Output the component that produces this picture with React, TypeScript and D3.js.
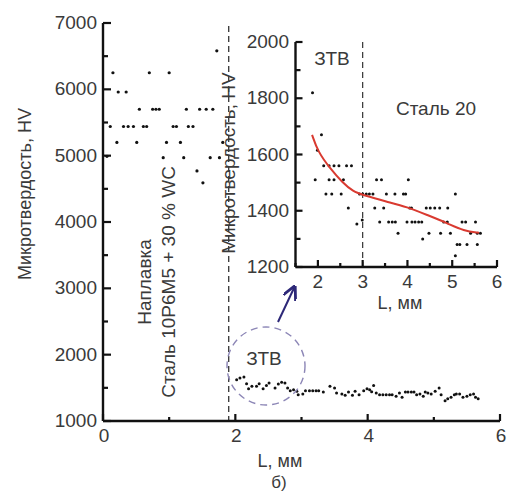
import React from "react";
import * as d3 from "d3";

// ---- Main chart data ----
const claddingX = [0.15, 0.70, 1.00, 0.23, 0.35, 0.55, 0.75, 0.80, 0.85, 1.26, 1.46, 1.56, 1.66,
  0.11, 0.31, 0.38, 0.46, 0.61, 0.66, 1.06, 1.11, 1.29, 1.36,
  0.21, 0.51, 0.96, 1.17, 1.81,
  0.06, 0.91, 1.22, 1.62, 1.76, 1.42, 1.51, 1.72];
const claddingY = [6250, 6250, 6250, 5960, 5960, 5700, 5700, 5700, 5700, 5700, 5700, 5700, 5700,
  5440, 5440, 5440, 5440, 5440, 5440, 5440, 5440, 5440, 5440,
  5200, 5200, 5200, 5200, 5200,
  4990, 4970, 4970, 4970, 4970, 4770, 4590, 6580];

const hazX = [2.02, 2.07, 2.13, 2.20, 2.25, 2.32, 2.36, 2.42, 2.47, 2.51, 2.60, 2.65, 2.70, 2.75, 2.79,
  2.83, 2.88, 2.93, 2.95, 3.02, 3.06, 3.12, 3.17, 3.22, 3.26, 3.33, 3.43, 3.50, 3.53, 3.61, 3.66,
  3.71, 3.77, 3.81, 3.87, 3.94, 3.99, 4.03, 4.06, 4.09, 4.13, 4.18, 4.23, 4.28, 4.33, 4.37, 4.43,
  4.48, 4.52, 4.57, 4.61, 4.66, 4.70, 4.74, 4.79, 4.84, 4.87, 4.91, 4.96, 5.02, 5.08, 5.11, 5.17,
  5.21, 5.26, 5.31, 5.34, 5.39, 5.44, 5.50, 5.55, 5.60, 5.63, 5.67, 2.17];
const hazY = [1620, 1650, 1665, 1487, 1522, 1522, 1562, 1487, 1537, 1572, 1497, 1557, 1583, 1572, 1497,
  1457, 1472, 1447, 1397, 1407, 1457, 1457, 1457, 1457, 1457, 1437, 1522, 1497, 1422, 1407, 1387,
  1437, 1387, 1447, 1397, 1457, 1487, 1472, 1440, 1537, 1422, 1397, 1397, 1397, 1397, 1397, 1372,
  1422, 1357, 1437, 1437, 1437, 1437, 1397, 1407, 1372, 1437, 1422, 1407, 1447, 1497, 1397, 1307,
  1337, 1357, 1397, 1407, 1407, 1357, 1372, 1397, 1407, 1357, 1337, 1562];

// ---- Inset data ----
const insetX = [1.88, 2.08, 1.99, 1.94,
  2.13, 2.25, 2.36, 2.47, 2.64, 2.75,
  2.25, 2.36, 2.57,
  2.18, 2.31, 2.52, 2.93, 3.00, 3.08, 3.15, 3.23,
  2.68, 2.87, 2.99,
  3.31, 3.42, 4.02,
  3.53, 3.72, 3.91, 3.96, 5.07,
  3.27, 3.47, 4.05, 4.09, 4.42, 4.51, 4.61, 4.72, 4.90,
  3.38, 3.58, 3.66, 3.73, 3.99, 4.10, 4.17, 4.25, 4.32, 4.81, 4.89, 5.22, 5.30, 5.52,
  3.79, 4.48, 4.74, 4.96, 5.41, 5.56, 5.63,
  4.34, 5.11, 5.17, 5.33, 5.56, 5.07];
const insetY = [1820, 1670, 1615, 1510,
  1560, 1560, 1560, 1560, 1560, 1560,
  1510, 1510, 1510,
  1460, 1460, 1460, 1460, 1460, 1460, 1460, 1460,
  1410, 1353, 1367,
  1510, 1510, 1510,
  1460, 1460, 1460, 1460, 1460,
  1410, 1410, 1410, 1410, 1410, 1410, 1410, 1410, 1410,
  1360, 1360, 1360, 1360, 1360, 1360, 1360, 1360, 1360, 1360, 1360, 1360, 1360, 1360,
  1320, 1320, 1320, 1320, 1320, 1320, 1320,
  1300, 1280, 1280, 1280, 1280, 1240];

const fitX = [1.87, 2.0, 2.27, 2.55, 2.79, 3.0, 3.54, 3.99, 4.44, 4.89, 5.26, 5.6];
const fitY = [1670, 1610, 1551, 1500, 1468, 1456, 1432, 1414, 1385, 1356, 1328, 1322];

// ---- Ticks ----
const mainXTicks = [0, 2, 4, 6];
const mainXMinor = [1, 3, 5];
const mainYTicks = [1000, 2000, 3000, 4000, 5000, 6000, 7000];
const mainYMinor = [1500, 2500, 3500, 4500, 5500, 6500];
const insetXTicks = [2, 3, 4, 5, 6];
const insetXMinor = [1.5, 2.5, 3.5, 4.5, 5.5];
const insetYTicks = [1200, 1400, 1600, 1800, 2000];
const insetYMinor = [1300, 1500, 1700, 1900];

const FONT = "Liberation Sans, Arial, sans-serif";
const TXT = "#3a3a3a";

export default function App() {
  const mx = d3.scaleLinear().domain([0, 6]).range([103, 500]);
  const my = d3.scaleLinear().domain([1000, 7000]).range([421, 23]);
  const ix = d3.scaleLinear().domain([1.5, 6]).range([295.5, 497]);
  const iy = d3.scaleLinear().domain([1200, 2000]).range([267, 42]);

  const fitLine = d3
    .line<number>()
    .x((_, i) => ix(fitX[i]))
    .y((d) => iy(d))
    .curve(d3.curveBasis)(fitY) as string;

  const dashX = 1.9;

  return (
    <svg
      width={508}
      height={492}
      style={{ position: "absolute", left: 0, top: 0, background: "#fff" }}
      fontFamily={FONT}
    >
      <defs>
        <marker id="arr" viewBox="0 0 10 10" refX="8" refY="5" markerWidth="7" markerHeight="7" orient="auto-start-reverse">
          <path d="M0,0 L10,5 L0,10" fill="none" stroke="#2d2878" strokeWidth={2} />
        </marker>
      </defs>

      {/* main dashed separator */}
      <line x1={mx(dashX)} x2={mx(dashX)} y1={my(7000) + 3} y2={my(1000)} stroke="#333" strokeWidth={1.3} strokeDasharray="6,4" />

      {/* main axes */}
      <line x1={mx(0)} x2={mx(0)} y1={my(7000)} y2={my(1000)} stroke="#111" strokeWidth={2.4} />
      <line x1={mx(0)} x2={mx(6)} y1={my(1000)} y2={my(1000)} stroke="#111" strokeWidth={2.4} />
      {mainYTicks.map((t) => (
        <g key={"my" + t}>
          <line x1={mx(0)} x2={mx(0) + 8} y1={my(t)} y2={my(t)} stroke="#111" strokeWidth={2.2} />
          <text x={97} y={my(t) + 6} textAnchor="end" fontSize={19} fill={TXT}>{t}</text>
        </g>
      ))}
      {mainYMinor.map((t) => (
        <line key={"mym" + t} x1={mx(0)} x2={mx(0) + 5} y1={my(t)} y2={my(t)} stroke="#111" strokeWidth={2.2} />
      ))}
      {mainXTicks.map((t) => (
        <g key={"mx" + t}>
          <line x1={mx(t)} x2={mx(t)} y1={my(1000)} y2={my(1000) - 7} stroke="#111" strokeWidth={2.2} />
          <text x={mx(t) + 1} y={442} textAnchor="middle" fontSize={19} fill={TXT}>{t}</text>
        </g>
      ))}
      {mainXMinor.map((t) => (
        <line key={"mxm" + t} x1={mx(t)} x2={mx(t)} y1={my(1000)} y2={my(1000) - 4} stroke="#111" strokeWidth={2.2} />
      ))}

      {/* main points */}
      {claddingX.map((x, i) => (
        <circle key={"c" + i} cx={mx(x)} cy={my(claddingY[i])} r={1.6} fill="#111" />
      ))}
      {hazX.map((x, i) => (
        <circle key={"h" + i} cx={mx(x)} cy={my(hazY[i])} r={1.5} fill="#111" />
      ))}

      {/* main labels */}
      <text transform={`translate(31,194) rotate(-90)`} textAnchor="middle" fontSize={18} fill={TXT}>Микротвердость, HV</text>
      <text transform={`translate(151,282) rotate(-90)`} textAnchor="middle" fontSize={19} fill={TXT}>Наплавка</text>
      <text transform={`translate(175,282) rotate(-90)`} textAnchor="middle" fontSize={19} fill={TXT}>Сталь 10Р6М5 + 30 % WC</text>
      <text x={280} y={467} textAnchor="middle" fontSize={18} fill={TXT}>L, мм</text>
      <text x={279} y={488} textAnchor="middle" fontSize={17} fill={TXT}>б)</text>

      {/* ZTB circle and arrow */}
      <circle cx={266} cy={366} r={39} fill="none" stroke="#8c86b6" strokeWidth={1.4} strokeDasharray="7,5" />
      <text x={264} y={365} textAnchor="middle" fontSize={19} fill={TXT}>ЗТВ</text>
      <line x1={278} y1={322} x2={294} y2={288} stroke="#2d2878" strokeWidth={2} markerEnd="url(#arr)" />

      {/* inset */}
      <text transform={`translate(235,163) rotate(-90)`} textAnchor="middle" fontSize={19} fill={TXT}>Микротвердость, HV</text>
      <line x1={ix(3)} x2={ix(3)} y1={iy(2000)} y2={iy(1200)} stroke="#333" strokeWidth={1.2} strokeDasharray="6,4" />
      <line x1={ix(1.5)} x2={ix(1.5)} y1={iy(2000)} y2={iy(1200)} stroke="#111" strokeWidth={2.4} />
      <line x1={ix(1.5)} x2={ix(6)} y1={iy(1200)} y2={iy(1200)} stroke="#111" strokeWidth={2.4} />
      {insetYTicks.map((t) => (
        <g key={"iy" + t}>
          <line x1={ix(1.5)} x2={ix(1.5) + 7} y1={iy(t)} y2={iy(t)} stroke="#111" strokeWidth={2.2} />
          <text x={289} y={iy(t) + 6} textAnchor="end" fontSize={19} fill={TXT}>{t}</text>
        </g>
      ))}
      {insetYMinor.map((t) => (
        <line key={"iym" + t} x1={ix(1.5)} x2={ix(1.5) + 5} y1={iy(t)} y2={iy(t)} stroke="#111" strokeWidth={2.2} />
      ))}
      {insetXTicks.map((t) => (
        <g key={"ix" + t}>
          <line x1={ix(t)} x2={ix(t)} y1={iy(1200)} y2={iy(1200) - 7} stroke="#111" strokeWidth={2.2} />
          <text x={ix(t)} y={288} textAnchor="middle" fontSize={19} fill={TXT}>{t}</text>
        </g>
      ))}
      {insetXMinor.map((t) => (
        <line key={"ixm" + t} x1={ix(t)} x2={ix(t)} y1={iy(1200)} y2={iy(1200) - 4} stroke="#111" strokeWidth={2.2} />
      ))}
      {insetX.map((x, i) => (
        <circle key={"i" + i} cx={ix(x)} cy={iy(insetY[i])} r={1.5} fill="#111" />
      ))}
      <path d={fitLine} fill="none" stroke="#d93a30" strokeWidth={2} />
      <text x={332} y={65} textAnchor="middle" fontSize={19} fill={TXT}>ЗТВ</text>
      <text x={436} y={115} textAnchor="middle" fontSize={19} fill={TXT}>Сталь 20</text>
      <text x={400} y={309} textAnchor="middle" fontSize={18} fill={TXT}>L, мм</text>
    </svg>
  );
}
